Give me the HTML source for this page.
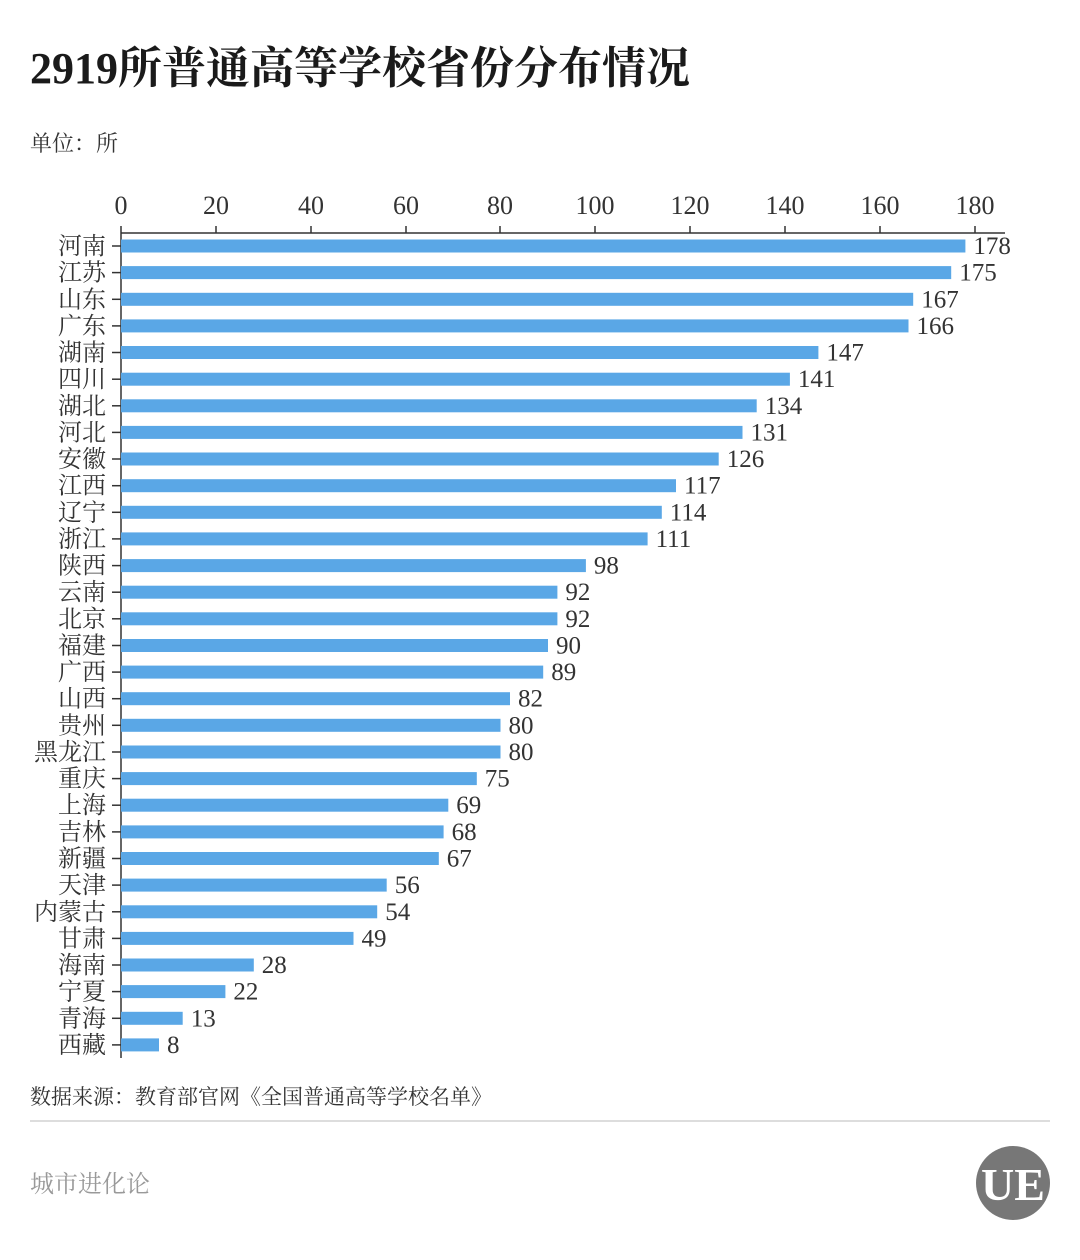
<!DOCTYPE html>
<html><head><meta charset="utf-8"><style>
html,body{margin:0;padding:0;background:#fff;}
svg{display:block;}
text{font-family:"Liberation Serif","Noto Serif CJK SC",serif;}
</style></head><body>
<svg width="1080" height="1260" viewBox="0 0 1080 1260" xmlns="http://www.w3.org/2000/svg">
<text x="30" y="83" font-size="44" font-weight="bold" fill="#1a1a1a">2919所普通高等学校省份分布情况</text>
<text x="30" y="151" font-size="22" fill="#333">单位：所</text>
<g font-size="26" fill="#333" text-anchor="middle">
<text x="121" y="214">0</text><text x="216" y="214">20</text><text x="311" y="214">40</text><text x="406" y="214">60</text><text x="500" y="214">80</text><text x="595" y="214">100</text><text x="690" y="214">120</text><text x="785" y="214">140</text><text x="880" y="214">160</text><text x="975" y="214">180</text>
</g>
<g stroke="#333" stroke-width="1.5">
<line x1="121" y1="233" x2="1005" y2="233"/>
<line x1="121" y1="233" x2="121" y2="1058"/>
<line x1="121" y1="226" x2="121" y2="233"/><line x1="216" y1="226" x2="216" y2="233"/><line x1="311" y1="226" x2="311" y2="233"/><line x1="406" y1="226" x2="406" y2="233"/><line x1="500" y1="226" x2="500" y2="233"/><line x1="595" y1="226" x2="595" y2="233"/><line x1="690" y1="226" x2="690" y2="233"/><line x1="785" y1="226" x2="785" y2="233"/><line x1="880" y1="226" x2="880" y2="233"/><line x1="975" y1="226" x2="975" y2="233"/>
</g>
<g fill="#5aa7e6">
<rect x="121" y="239.5" width="844.4" height="13"/>
<rect x="121" y="266.1" width="830.2" height="13"/>
<rect x="121" y="292.8" width="792.2" height="13"/>
<rect x="121" y="319.4" width="787.5" height="13"/>
<rect x="121" y="346.0" width="697.4" height="13"/>
<rect x="121" y="372.7" width="668.9" height="13"/>
<rect x="121" y="399.3" width="635.7" height="13"/>
<rect x="121" y="425.9" width="621.5" height="13"/>
<rect x="121" y="452.5" width="597.7" height="13"/>
<rect x="121" y="479.2" width="555.0" height="13"/>
<rect x="121" y="505.8" width="540.8" height="13"/>
<rect x="121" y="532.4" width="526.6" height="13"/>
<rect x="121" y="559.1" width="464.9" height="13"/>
<rect x="121" y="585.7" width="436.4" height="13"/>
<rect x="121" y="612.3" width="436.4" height="13"/>
<rect x="121" y="639.0" width="427.0" height="13"/>
<rect x="121" y="665.6" width="422.2" height="13"/>
<rect x="121" y="692.2" width="389.0" height="13"/>
<rect x="121" y="718.8" width="379.5" height="13"/>
<rect x="121" y="745.5" width="379.5" height="13"/>
<rect x="121" y="772.1" width="355.8" height="13"/>
<rect x="121" y="798.7" width="327.3" height="13"/>
<rect x="121" y="825.4" width="322.6" height="13"/>
<rect x="121" y="852.0" width="317.8" height="13"/>
<rect x="121" y="878.6" width="265.7" height="13"/>
<rect x="121" y="905.3" width="256.2" height="13"/>
<rect x="121" y="931.9" width="232.5" height="13"/>
<rect x="121" y="958.5" width="132.8" height="13"/>
<rect x="121" y="985.1" width="104.4" height="13"/>
<rect x="121" y="1011.8" width="61.7" height="13"/>
<rect x="121" y="1038.4" width="38.0" height="13"/>
</g>
<g stroke="#333" stroke-width="1.5">
<line x1="112" x2="121" y1="246" y2="246"/><line x1="112" x2="121" y1="272.6" y2="272.6"/><line x1="112" x2="121" y1="299.3" y2="299.3"/><line x1="112" x2="121" y1="325.9" y2="325.9"/><line x1="112" x2="121" y1="352.5" y2="352.5"/><line x1="112" x2="121" y1="379.2" y2="379.2"/><line x1="112" x2="121" y1="405.8" y2="405.8"/><line x1="112" x2="121" y1="432.4" y2="432.4"/><line x1="112" x2="121" y1="459" y2="459"/><line x1="112" x2="121" y1="485.7" y2="485.7"/><line x1="112" x2="121" y1="512.3" y2="512.3"/><line x1="112" x2="121" y1="538.9" y2="538.9"/><line x1="112" x2="121" y1="565.6" y2="565.6"/><line x1="112" x2="121" y1="592.2" y2="592.2"/><line x1="112" x2="121" y1="618.8" y2="618.8"/><line x1="112" x2="121" y1="645.5" y2="645.5"/><line x1="112" x2="121" y1="672.1" y2="672.1"/><line x1="112" x2="121" y1="698.7" y2="698.7"/><line x1="112" x2="121" y1="725.3" y2="725.3"/><line x1="112" x2="121" y1="752" y2="752"/><line x1="112" x2="121" y1="778.6" y2="778.6"/><line x1="112" x2="121" y1="805.2" y2="805.2"/><line x1="112" x2="121" y1="831.9" y2="831.9"/><line x1="112" x2="121" y1="858.5" y2="858.5"/><line x1="112" x2="121" y1="885.1" y2="885.1"/><line x1="112" x2="121" y1="911.8" y2="911.8"/><line x1="112" x2="121" y1="938.4" y2="938.4"/><line x1="112" x2="121" y1="965" y2="965"/><line x1="112" x2="121" y1="991.6" y2="991.6"/><line x1="112" x2="121" y1="1018.3" y2="1018.3"/><line x1="112" x2="121" y1="1044.9" y2="1044.9"/>
</g>
<g font-size="24" fill="#333" text-anchor="end">
<text x="106" y="254">河南</text><text x="106" y="280.6">江苏</text><text x="106" y="307.3">山东</text><text x="106" y="333.9">广东</text><text x="106" y="360.5">湖南</text><text x="106" y="387.2">四川</text><text x="106" y="413.8">湖北</text><text x="106" y="440.4">河北</text><text x="106" y="467">安徽</text><text x="106" y="493.7">江西</text><text x="106" y="520.3">辽宁</text><text x="106" y="546.9">浙江</text><text x="106" y="573.6">陕西</text><text x="106" y="600.2">云南</text><text x="106" y="626.8">北京</text><text x="106" y="653.5">福建</text><text x="106" y="680.1">广西</text><text x="106" y="706.7">山西</text><text x="106" y="733.3">贵州</text><text x="106" y="760">黑龙江</text><text x="106" y="786.6">重庆</text><text x="106" y="813.2">上海</text><text x="106" y="839.9">吉林</text><text x="106" y="866.5">新疆</text><text x="106" y="893.1">天津</text><text x="106" y="919.8">内蒙古</text><text x="106" y="946.4">甘肃</text><text x="106" y="973">海南</text><text x="106" y="999.6">宁夏</text><text x="106" y="1026.3">青海</text><text x="106" y="1052.9">西藏</text>
</g>
<g font-size="25" fill="#333">
<text x="973.4" y="254">178</text><text x="959.2" y="280.6">175</text><text x="921.2" y="307.3">167</text><text x="916.5" y="333.9">166</text><text x="826.4" y="360.5">147</text><text x="797.9" y="387.2">141</text><text x="764.7" y="413.8">134</text><text x="750.5" y="440.4">131</text><text x="726.7" y="467">126</text><text x="684" y="493.7">117</text><text x="669.8" y="520.3">114</text><text x="655.6" y="546.9">111</text><text x="593.9" y="573.6">98</text><text x="565.4" y="600.2">92</text><text x="565.4" y="626.8">92</text><text x="556" y="653.5">90</text><text x="551.2" y="680.1">89</text><text x="518" y="706.7">82</text><text x="508.5" y="733.3">80</text><text x="508.5" y="760">80</text><text x="484.8" y="786.6">75</text><text x="456.3" y="813.2">69</text><text x="451.6" y="839.9">68</text><text x="446.8" y="866.5">67</text><text x="394.7" y="893.1">56</text><text x="385.2" y="919.8">54</text><text x="361.5" y="946.4">49</text><text x="261.8" y="973">28</text><text x="233.4" y="999.6">22</text><text x="190.7" y="1026.3">13</text><text x="167" y="1052.9">8</text>
</g>
<text x="30" y="1104" font-size="21" fill="#333">数据来源：教育部官网《全国普通高等学校名单》</text>
<line x1="30" y1="1121" x2="1050" y2="1121" stroke="#ddd" stroke-width="2"/>
<text x="30" y="1192" font-size="24" fill="#999">城市进化论</text>
<circle cx="1013" cy="1183" r="37" fill="#777"/>
<text x="1013" y="1200" font-size="46" font-weight="bold" fill="#fff" text-anchor="middle" font-family="Liberation Sans,sans-serif">UE</text>
</svg>
</body></html>
